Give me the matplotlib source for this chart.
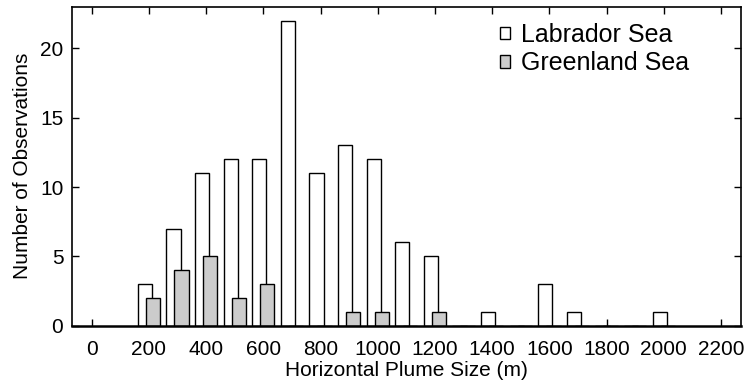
import matplotlib
matplotlib.use("Agg")
import matplotlib.pyplot as plt
import numpy as np
from matplotlib.patches import Patch

plt.rcParams['font.family'] = ['Liberation Sans', 'DejaVu Sans']

bins = [200, 300, 400, 500, 600, 700, 800, 900, 1000, 1100, 1200, 1300, 1400,
        1500, 1600, 1700, 1800, 1900, 2000]
labrador = [3, 7, 11, 12, 12, 22, 11, 13, 12, 6, 5, 0, 1, 0, 3, 1, 0, 0, 1]
greenland = [2, 4, 5, 2, 3, 0, 0, 1, 1, 0, 1, 0, 0, 0, 0, 0, 0, 0, 0]
xticks = list(range(0, 2201, 200))
yticks = [0, 5, 10, 15, 20]

W, H = 746, 390
fig = plt.figure(figsize=(W / 100, H / 100), dpi=100)
ax = fig.add_axes([71.7 / W, 1 - 325.7 / H, (740.7 - 71.7) / W, (325.7 - 6.7) / H])

x = np.array(bins, dtype=float)
off = 14
w = 50
ax.bar(x - off, labrador, width=w, facecolor='white', edgecolor='black', linewidth=1.0, zorder=2)
ax.bar(x + off, greenland, width=w, facecolor='#cccccc', edgecolor='black', linewidth=1.0, zorder=3)

ax.set_xlim(-70, 2269)
ax.set_ylim(0, 23)
ax.set_xticks(xticks)
ax.set_yticks(yticks)
ax.tick_params(direction='in', length=5, width=1.0, top=True, right=True,
               labelsize=15, color='black')
ax.tick_params(axis='x', pad=10.5)
ax.tick_params(axis='y', pad=6)
for s in ax.spines.values():
    s.set_linewidth(1.2)
    s.set_zorder(5)
ax.spines['bottom'].set_linewidth(1.8)

ax.set_xlabel('Horizontal Plume Size (m)', fontsize=15, labelpad=1)
ax.set_ylabel('Number of Observations', fontsize=15, labelpad=6)

handles = [Patch(facecolor='white', edgecolor='black', linewidth=1.0),
           Patch(facecolor='#cccccc', edgecolor='black', linewidth=1.0)]
leg = ax.legend(handles, ['Labrador Sea', 'Greenland Sea'], loc='upper left',
                frameon=False, fontsize=18, handlelength=0.4, handleheight=0.4,
                handletextpad=0.45, labelspacing=0.18, borderpad=0, borderaxespad=0,
                bbox_to_anchor=(500 / W, 1 - 23 / H), bbox_transform=fig.transFigure)

fig.savefig('out.png', dpi=100)
